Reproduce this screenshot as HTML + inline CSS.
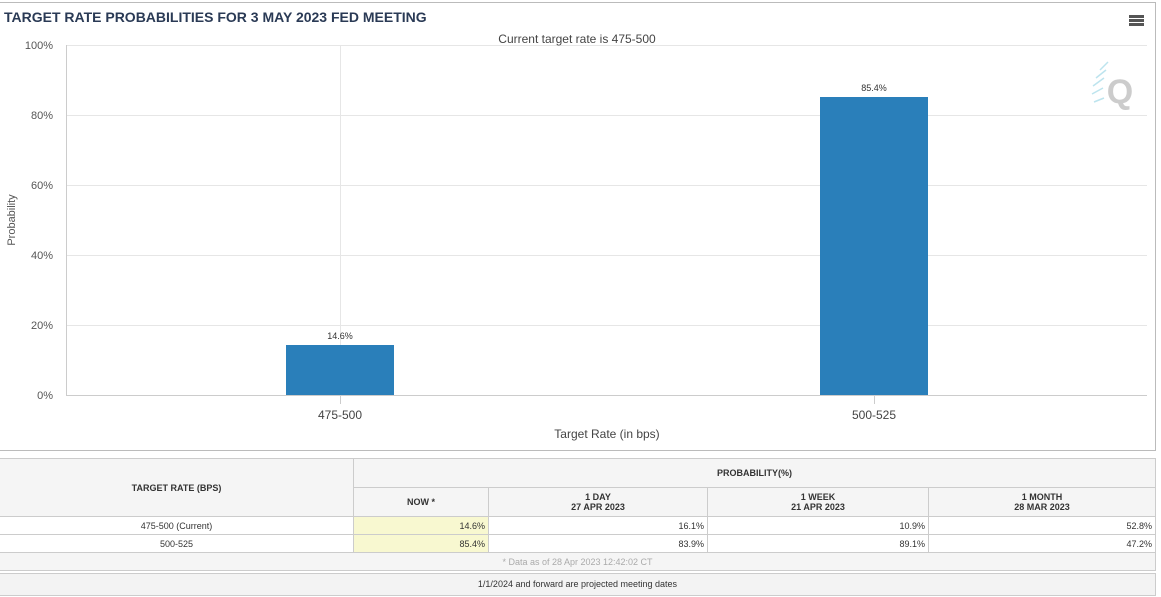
<!DOCTYPE html>
<html><head><meta charset="utf-8"><style>
body{margin:0;width:1161px;height:597px;background:#fff;font-family:"Liberation Sans",Arial,sans-serif;position:relative;overflow:hidden}
.abs{position:absolute}
table{border-collapse:collapse;position:absolute;left:-1px;top:458px;width:1157px;font-size:9px;color:#333}
td{border:1px solid #ccc;padding:0 3px}
.h td{font-weight:bold}
</style></head><body>
<div class="abs" style="left:-2px;top:2px;width:1156px;height:447px;border:1px solid #bbb"></div>
<div class="abs" style="left:4px;top:9px;font-size:14px;font-weight:bold;color:#2a3a55">TARGET RATE PROBABILITIES FOR 3 MAY 2023 FED MEETING</div>
<div class="abs" style="left:1129px;top:15px;width:15px;height:3px;background:#555;box-shadow:0 4px 0 #555,0 8px 0 #555"></div>
<svg class="abs" style="left:0;top:0" width="1161" height="450">
<g stroke="#e6e6e6" stroke-width="1">
<line x1="66" y1="45.5" x2="1147" y2="45.5"/><line x1="66" y1="115.5" x2="1147" y2="115.5"/><line x1="66" y1="185.5" x2="1147" y2="185.5"/><line x1="66" y1="255.5" x2="1147" y2="255.5"/><line x1="66" y1="325.5" x2="1147" y2="325.5"/>
<line x1="340.5" y1="45" x2="340.5" y2="395"/>
</g>
<line x1="66.5" y1="45" x2="66.5" y2="396" stroke="#ccc"/>
<line x1="66" y1="395.5" x2="1147" y2="395.5" stroke="#ccc"/>
<line x1="340.5" y1="396" x2="340.5" y2="404" stroke="#ccc"/>
<line x1="874.5" y1="396" x2="874.5" y2="404" stroke="#ccc"/>
<g font-size="11" fill="#555" text-anchor="end">
<text x="53" y="49">100%</text><text x="53" y="119">80%</text><text x="53" y="189">60%</text><text x="53" y="259">40%</text><text x="53" y="329">20%</text><text x="53" y="399">0%</text>
</g>
<rect x="286" y="345" width="108" height="50" fill="#2a7fba"/>
<rect x="820" y="97" width="108" height="298" fill="#2a7fba"/>
<g font-size="9" fill="#333" text-anchor="middle"><text x="340" y="339">14.6%</text><text x="874" y="91">85.4%</text></g>
<g font-size="12" fill="#444" text-anchor="middle"><text x="340" y="419">475-500</text><text x="874" y="419">500-525</text><text x="607" y="438">Target Rate (in bps)</text><text x="577" y="43">Current target rate is 475-500</text></g>
<text x="15" y="220" font-size="11" fill="#555" text-anchor="middle" transform="rotate(-90 15 220)">Probability</text>
<text x="1120" y="103" font-size="34" font-weight="bold" fill="#ccc" text-anchor="middle">Q</text>
<g stroke="#bde4ee" stroke-width="1.5"><line x1="1100" y1="70" x2="1108" y2="62"/><line x1="1096" y1="78" x2="1106" y2="70"/><line x1="1093" y1="86" x2="1104" y2="78"/><line x1="1092" y1="94" x2="1103" y2="88"/><line x1="1094" y1="102" x2="1104" y2="98"/></g>
</svg>
<table>
<tr class="h" style="height:29px;background:#f5f5f5"><td rowspan="2" style="text-align:center;width:347px">TARGET RATE (BPS)</td><td colspan="4" style="text-align:center">PROBABILITY(%)</td></tr>
<tr class="h" style="height:29px;background:#f5f5f5;text-align:center"><td style="width:128px">NOW *</td><td style="width:212px">1 DAY<br>27 APR 2023</td><td style="width:214px">1 WEEK<br>21 APR 2023</td><td>1 MONTH<br>28 MAR 2023</td></tr>
<tr style="height:18px"><td style="text-align:center">475-500 (Current)</td><td style="text-align:right;background:#f8f8d0">14.6%</td><td style="text-align:right">16.1%</td><td style="text-align:right">10.9%</td><td style="text-align:right">52.8%</td></tr>
<tr style="height:18px"><td style="text-align:center">500-525</td><td style="text-align:right;background:#f8f8d0">85.4%</td><td style="text-align:right">83.9%</td><td style="text-align:right">89.1%</td><td style="text-align:right">47.2%</td></tr>
<tr style="height:18px;background:#f5f5f5"><td colspan="5" style="text-align:center;color:#aaa">* Data as of 28 Apr 2023 12:42:02 CT</td></tr>
</table>
<div class="abs" style="left:-1px;top:573px;width:1155px;height:21px;background:#f3f3f3;border:1px solid #ccc;font-size:9px;color:#333;text-align:center;line-height:21px">1/1/2024 and forward are projected meeting dates</div>
</body></html>
